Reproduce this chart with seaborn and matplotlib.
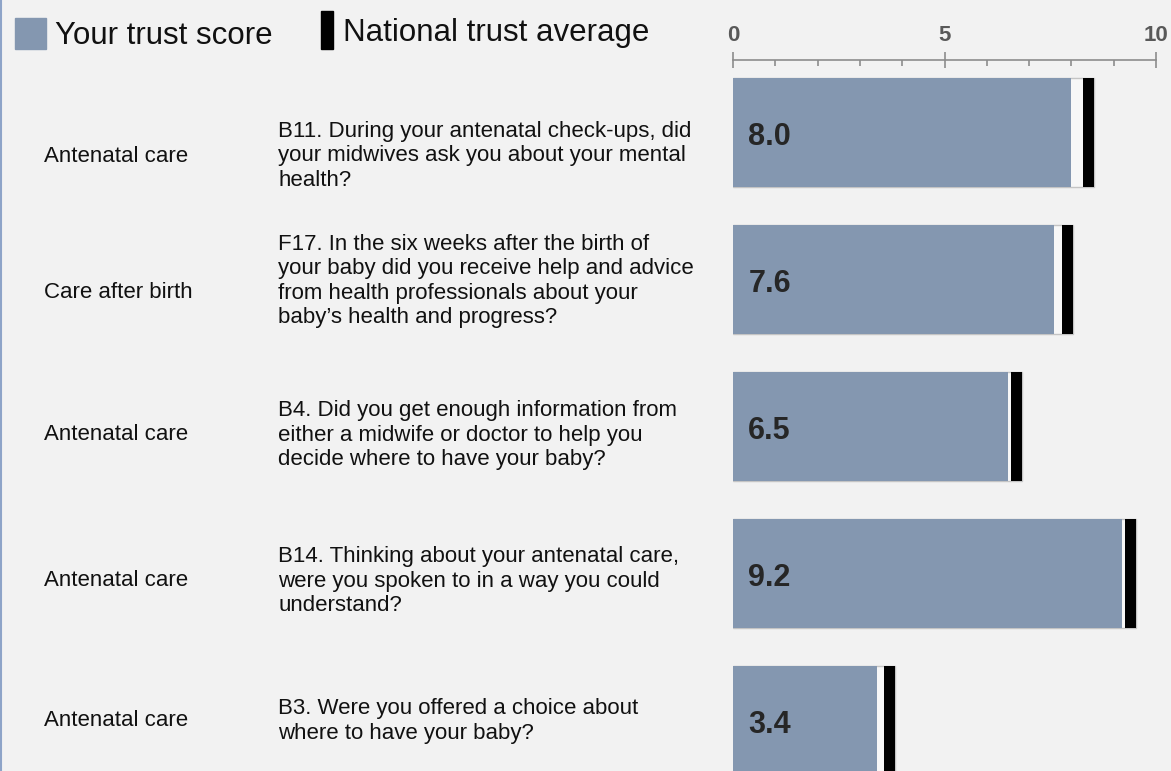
import matplotlib
matplotlib.use("Agg")
import matplotlib.pyplot as plt
import matplotlib.patches as mpatches
from matplotlib.ticker import MultipleLocator
import seaborn as sns
import pandas as pd

# data
sections = ["Antenatal care", "Care after birth", "Antenatal care", "Antenatal care", "Antenatal care"]
questions = [
    "B11. During your antenatal check-ups, did\nyour midwives ask you about your mental\nhealth?",
    "F17. In the six weeks after the birth of\nyour baby did you receive help and advice\nfrom health professionals about your\nbaby\u2019s health and progress?",
    "B4. Did you get enough information from\neither a midwife or doctor to help you\ndecide where to have your baby?",
    "B14. Thinking about your antenatal care,\nwere you spoken to in a way you could\nunderstand?",
    "B3. Were you offered a choice about\nwhere to have your baby?",
]
trust_score = [8.0, 7.6, 6.5, 9.2, 3.4]
national_avg = [8.4, 7.9, 6.7, 9.4, 3.7]

# layout: vertical centre (pixels from top) of each text row
section_y_px = [156, 292, 435, 580, 721]
question_y_px = [156, 281, 435, 581, 721]

BG = "#f2f2f2"
BAR = "#8497b0"
MARK_W = 0.26

df = pd.DataFrame({"q": questions, "score": trust_score, "nat": national_avg})
df["nat_end"] = df["nat"] + MARK_W / 2

sns.set_style("white")
plt.rcParams["font.family"] = ["Liberation Sans", "DejaVu Sans"]

W, H = 1171, 771
fig = plt.figure(figsize=(W / 100, H / 100), dpi=100)
fig.patch.set_facecolor(BG)

ax = fig.add_axes([733 / W, 0, 423 / W, (H - 60) / H])
ax.set_facecolor("none")

# light bar up to the national marker, then score bar, then the black marker
sns.barplot(data=df, x="nat_end", y="q", orient="h", color="#f7f7f7",
            edgecolor="#c4c4c4", linewidth=1, width=0.74, saturation=1, ax=ax)
sns.barplot(data=df, x="score", y="q", orient="h", color=BAR,
            linewidth=0, width=0.74, saturation=1, ax=ax)
ax.barh(range(len(df)), [MARK_W] * len(df), left=df["nat"] - MARK_W / 2,
        height=0.74, color="black", linewidth=0)

for i, v in enumerate(trust_score):
    ax.annotate(f"{v:.1f}", xy=(0, i), xytext=(11, -9), textcoords="offset points",
                ha="left", va="baseline", fontsize=22, fontweight="bold",
                color="#262626")

ax.set_xlim(0, 10)
ax.set_ylim(4.343, -0.493)
ax.set_xlabel("")
ax.set_ylabel("")
ax.set_yticks([])

ax.xaxis.tick_top()
ax.xaxis.set_major_locator(MultipleLocator(5))
ax.xaxis.set_minor_locator(MultipleLocator(1))
ax.tick_params(axis="x", which="major", direction="inout", length=12, width=1.2,
               color="#8c8c8c", labelsize=16, labelcolor="#595959", pad=4)
ax.tick_params(axis="x", which="minor", direction="in", length=4, width=1.2,
               color="#8c8c8c")
for lab in ax.get_xticklabels():
    lab.set_fontweight("bold")
for s in ["left", "right", "bottom"]:
    ax.spines[s].set_visible(False)
ax.spines["top"].set_color("#8c8c8c")
ax.spines["top"].set_linewidth(1.2)

# left-hand text columns
for sec, q, ys, yq in zip(sections, questions, section_y_px, question_y_px):
    fig.text(44 / W, 1 - ys / H, sec, ha="left", va="center",
             fontsize=16, color="#111111")
    fig.text(278 / W, 1 - yq / H, q, ha="left", va="center",
             fontsize=16, color="#111111", linespacing=1.2)

# legend drawn in figure pixels
fig.patches.append(mpatches.Rectangle((15 / W, 1 - 49 / H), 31 / W, 31 / H,
                                      transform=fig.transFigure, color=BAR))
fig.text(55 / W, 1 - 44 / H, "Your trust score", ha="left", va="baseline",
         fontsize=22.5, color="#111111")
fig.patches.append(mpatches.Rectangle((321 / W, 1 - 49 / H), 12 / W, 38 / H,
                                      transform=fig.transFigure, color="black"))
fig.text(343 / W, 1 - 41 / H, "National trust average", ha="left", va="baseline",
         fontsize=22.5, color="#111111")

# thin border at the left edge
fig.add_artist(plt.Line2D([0.8 / W, 0.8 / W], [0, 1], transform=fig.transFigure,
                          color="#8ea4c8", linewidth=1.5))

fig.savefig("out.png", dpi=100, facecolor=BG)
